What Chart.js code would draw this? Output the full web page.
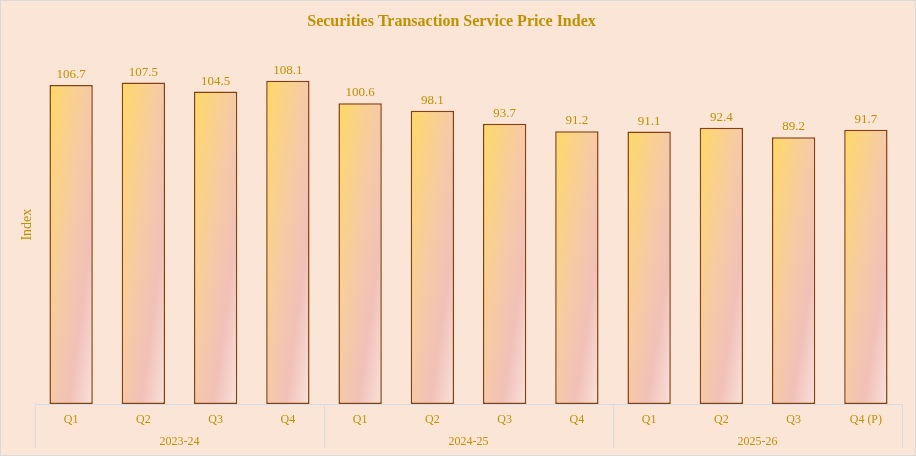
<!DOCTYPE html>
<html>
<head>
<meta charset="utf-8">
<script src="https://cdn.jsdelivr.net/npm/chart.js@4/dist/chart.umd.min.js"></script>
<style>
  html, body { margin: 0; padding: 0; background: #fff; }
  #wrap {
    width: 916px; height: 456px; box-sizing: border-box;
    border: 1px solid #d9d9d9; background: #fbe5d7;
  }
  canvas { display: block; }
</style>
</head>
<body>
<div id="wrap"><canvas id="chart" width="914" height="454"></canvas></div>
<script>
const quarters = ['Q1', 'Q2', 'Q3', 'Q4', 'Q1', 'Q2', 'Q3', 'Q4', 'Q1', 'Q2', 'Q3', 'Q4 (P)'];
const years = ['2023-24', '2024-25', '2025-26'];
const indexValues = [106.7, 107.5, 104.5, 108.1, 100.6, 98.1, 93.7, 91.2, 91.1, 92.4, 89.2, 91.7];

const gold = '#bf9000';
const serif = '"Liberation Serif", "Times New Roman", serif';
const barPct = 0.6;

// diagonal gradient per bar, worked out from the scales
function barFill(c) {
  const chart = c.chart;
  const x = chart.scales.x, y = chart.scales.y;
  if (!x || !y || c.raw == null) return '#ffd966';
  const w = (x.width / quarters.length) * barPct;
  const left = x.getPixelForValue(c.dataIndex) - w / 2;
  const top = y.getPixelForValue(c.raw);
  const h = y.getPixelForValue(0) - top;
  const d = h * h + w * w;
  const x1 = left + 2 * w * h * h / d, y1 = top + 2 * w * w * h / d;
  if (![left, top, x1, y1].every(Number.isFinite) || d === 0) return '#ffd966';
  const g = chart.ctx.createLinearGradient(left, top, x1, y1);
  g.addColorStop(0, '#ffd966');
  g.addColorStop(0.45, '#f6cba4');
  g.addColorStop(0.72, '#f1c0b7');
  g.addColorStop(1, '#f9e2dc');
  return g;
}

const valueLabels = {
  id: 'valueLabels',
  afterDatasetsDraw(chart) {
    const ctx = chart.ctx;
    const meta = chart.getDatasetMeta(0);
    ctx.save();
    ctx.fillStyle = gold;
    ctx.font = '13px ' + serif;
    ctx.textAlign = 'center';
    ctx.textBaseline = 'alphabetic';
    meta.data.forEach((bar, i) => {
      ctx.fillText(indexValues[i].toFixed(1), bar.x, bar.y - 7);
    });
    ctx.restore();
  }
};

// group separators on the two-row axis
const groupLines = {
  id: 'groupLines',
  afterDraw(chart) {
    const ctx = chart.ctx;
    const x = chart.scales.x, x2 = chart.scales.x2;
    const top = chart.chartArea.bottom, bottom = x2.bottom;
    const xs = [x.left];
    for (let i = 4; i < quarters.length; i += 4) {
      xs.push((x.getPixelForValue(i - 1) + x.getPixelForValue(i)) / 2);
    }
    xs.push(x.right);
    ctx.save();
    ctx.strokeStyle = '#d6dce5';
    ctx.lineWidth = 1;
    xs.forEach(px => {
      const p = Math.round(px) + 0.5;
      ctx.beginPath();
      ctx.moveTo(p, top);
      ctx.lineTo(p, bottom);
      ctx.stroke();
    });
    ctx.restore();
  }
};

new Chart(document.getElementById('chart'), {
  type: 'bar',
  data: {
    labels: quarters,
    datasets: [{
      label: 'Index',
      data: indexValues,
      backgroundColor: barFill,
      borderColor: '#84410f',
      borderWidth: 1.5,
      borderSkipped: false,
      barPercentage: barPct,
      categoryPercentage: 1
    }]
  },
  options: {
    responsive: false,
    animation: false,
    layout: { padding: { top: 0, right: 13, bottom: 7, left: 0 } },
    plugins: {
      legend: { display: false },
      tooltip: { enabled: false },
      title: {
        display: true,
        text: 'Securities Transaction Service Price Index',
        color: gold,
        font: { family: serif, size: 16, weight: 'bold' },
        padding: { top: 11, bottom: 14 }
      }
    },
    scales: {
      y: {
        min: 0,
        max: 120,
        grid: { display: false },
        border: { display: false },
        ticks: { display: false },
        title: {
          display: true,
          text: 'Index',
          color: gold,
          font: { family: serif, size: 14 },
          padding: { top: 18, bottom: 0 }
        },
        afterFit(s) { s.width = 34; }
      },
      x: {
        grid: { display: false },
        border: { display: true, color: '#d6dce5' },
        ticks: { color: gold, font: { family: serif, size: 12 }, padding: 1, maxRotation: 0, autoSkip: false },
        afterFit(s) { s.height = 22; }
      },
      x2: {
        type: 'category',
        position: 'bottom',
        labels: years,
        offset: true,
        grid: { display: false },
        border: { display: false },
        ticks: { color: gold, font: { family: serif, size: 12 }, padding: 1, maxRotation: 0 },
        afterFit(s) { s.height = 22; }
      }
    }
  },
  plugins: [valueLabels, groupLines]
});
</script>
</body>
</html>
